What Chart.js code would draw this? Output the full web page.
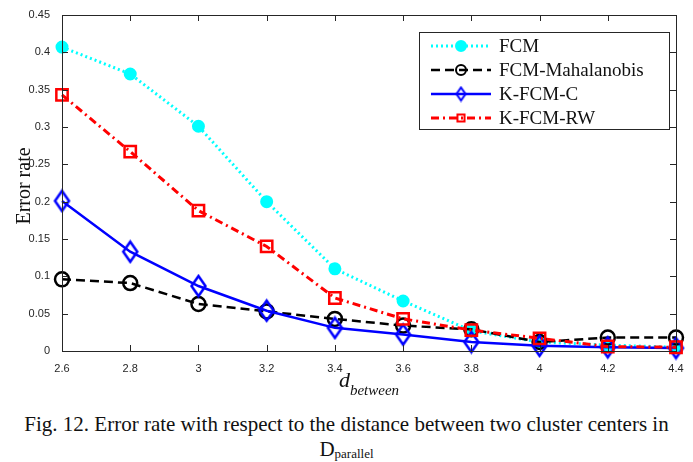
<!DOCTYPE html>
<html>
<head>
    <script src="https://cdn.jsdelivr.net/npm/chart.js@4.4.0/dist/chart.umd.min.js"></script>
    <style>
        body {
            margin: 0;
            padding: 0;
            background: white;
        }
        .wrap {
            position: relative;
            width: 693px;
            height: 462px;
        }
        .chart-box {
            position: absolute;
            left: 0;
            top: 0;
            width: 693px;
            height: 400px;
        }
        .caption {
            position: absolute;
            left: 0;
            top: 412px;
            width: 693px;
            text-align: center;
            font-family: "Liberation Serif", "DejaVu Serif", serif;
            font-size: 21px;
            line-height: 25px;
            color: #111;
        }
        .caption sub {
            font-size: 13px;
            vertical-align: -2px;
        }
    </style>
</head>
<body>
    <div class="wrap">
        <div class="chart-box">
            <canvas id="errChart"></canvas>
        </div>
        <div class="caption">
            Fig. 12. Error rate with respect to the distance between two cluster centers in<br>
            D<sub>parallel</sub>
        </div>
    </div>

    <script>
        // d_between values on the x axis
        const dBetween = [2.6, 2.8, 3.0, 3.2, 3.4, 3.6, 3.8, 4.0, 4.2, 4.4];
        const yTicks = [0, 0.05, 0.1, 0.15, 0.2, 0.25, 0.3, 0.35, 0.4, 0.45];

        const seriesNames = ['FCM', 'FCM-Mahalanobis', 'K-FCM-C', 'K-FCM-RW'];
        const fcm      = [0.407, 0.371, 0.301, 0.200, 0.110, 0.067, 0.027, 0.012, 0.008, 0.005];
        const fcmMaha  = [0.096, 0.091, 0.063, 0.053, 0.043, 0.034, 0.029, 0.012, 0.018, 0.018];
        const kfcmC    = [0.201, 0.133, 0.087, 0.054, 0.031, 0.022, 0.012, 0.007, 0.005, 0.004];
        const kfcmRW   = [0.343, 0.267, 0.188, 0.140, 0.071, 0.043, 0.028, 0.017, 0.006, 0.005];

        const toPoints = arr => arr.map((v, i) => ({ x: dBetween[i], y: v }));

        // tall open diamond (MATLAB 'd' marker)
        function makeDiamond(w, h, color, lw) {
            const c = document.createElement('canvas');
            c.width = w + lw * 2;
            c.height = h + lw * 2;
            const g = c.getContext('2d');
            const cx = c.width / 2, cy = c.height / 2;
            g.strokeStyle = color;
            g.lineWidth = lw;
            g.beginPath();
            g.moveTo(cx, cy - h / 2);
            g.lineTo(cx + w / 2, cy);
            g.lineTo(cx, cy + h / 2);
            g.lineTo(cx - w / 2, cy);
            g.closePath();
            g.stroke();
            return c;
        }
        const diamondBig = makeDiamond(14, 20, '#0000ff', 2.5);
        const diamondSmall = makeDiamond(9, 13, '#0000ff', 2);

        const datasets = [
            {
                label: seriesNames[0],
                data: toPoints(fcm),
                borderColor: '#00ffff',
                backgroundColor: '#00ffff',
                borderWidth: 3,
                borderDash: [2, 3],
                pointStyle: 'circle',
                pointRadius: 5.5,
                pointBorderWidth: 2,
                order: 4
            },
            {
                label: seriesNames[1],
                data: toPoints(fcmMaha),
                borderColor: '#000000',
                backgroundColor: 'rgba(0,0,0,0)',
                borderWidth: 2.5,
                borderDash: [9, 5],
                pointStyle: 'circle',
                pointRadius: 7,
                pointBorderWidth: 2.5,
                order: 3
            },
            {
                label: seriesNames[2],
                data: toPoints(kfcmC),
                borderColor: '#0000ff',
                backgroundColor: 'rgba(0,0,0,0)',
                borderWidth: 2.5,
                pointStyle: diamondBig,
                legendStyle: diamondSmall,
                pointRadius: 8,
                pointBorderWidth: 2.5,
                order: 2
            },
            {
                label: seriesNames[3],
                data: toPoints(kfcmRW),
                borderColor: '#ff0000',
                backgroundColor: 'rgba(0,0,0,0)',
                borderWidth: 3,
                borderDash: [8, 4, 2, 4],
                pointStyle: 'rect',
                pointRadius: 8,
                pointBorderWidth: 2.5,
                order: 1
            }
        ];
        datasets.forEach(ds => {
            ds.tension = 0;
            ds.clip = false;
            ds.pointBackgroundColor = ds.backgroundColor;
            ds.pointBorderColor = ds.borderColor;
        });

        // box around the plot with MATLAB-style inward ticks, axis titles, legend
        const matlabFrame = {
            id: 'matlabFrame',
            afterDatasetsDraw(chart) {
                const { ctx, chartArea: a, scales: { x, y } } = chart;
                ctx.save();
                ctx.strokeStyle = '#262626';
                ctx.lineWidth = 1;
                ctx.strokeRect(a.left + 0.5, a.top + 0.5, a.right - a.left, a.bottom - a.top);
                ctx.beginPath();
                dBetween.forEach(v => {
                    const px = Math.round(x.getPixelForValue(v)) + 0.5;
                    ctx.moveTo(px, a.bottom); ctx.lineTo(px, a.bottom - 6);
                    ctx.moveTo(px, a.top); ctx.lineTo(px, a.top + 6);
                });
                yTicks.forEach(v => {
                    const py = Math.round(y.getPixelForValue(v)) + 0.5;
                    ctx.moveTo(a.left, py); ctx.lineTo(a.left + 6, py);
                    ctx.moveTo(a.right, py); ctx.lineTo(a.right - 6, py);
                });
                ctx.stroke();

                // y axis title
                ctx.fillStyle = '#111';
                ctx.font = '20px "Liberation Serif", serif';
                ctx.textAlign = 'center';
                ctx.textBaseline = 'middle';
                ctx.save();
                ctx.translate(25, 186);
                ctx.rotate(-Math.PI / 2);
                ctx.fillText('Error rate', 0, 0);
                ctx.restore();

                // x axis title: d with subscript "between"
                const cx = (a.left + a.right) / 2;
                ctx.textAlign = 'left';
                ctx.textBaseline = 'alphabetic';
                ctx.font = 'italic 22px "Liberation Serif", serif';
                const dW = ctx.measureText('d').width;
                ctx.font = 'italic 15px "Liberation Serif", serif';
                const bW = ctx.measureText('between').width;
                const startX = cx - (dW + bW) / 2;
                ctx.font = 'italic 22px "Liberation Serif", serif';
                ctx.fillText('d', startX, 387);
                ctx.font = 'italic 15px "Liberation Serif", serif';
                ctx.fillText('between', startX + dW, 395);

                // legend box
                const lx = 419, ly = 32, lw = 250, lh = 97;
                ctx.fillStyle = '#fff';
                ctx.fillRect(lx, ly, lw, lh);
                ctx.strokeStyle = '#262626';
                ctx.strokeRect(lx + 0.5, ly + 0.5, lw, lh);
                const rows = [46, 70, 94, 118];
                chart.data.datasets.forEach((ds, i) => {
                    const ry = rows[i];
                    ctx.save();
                    ctx.strokeStyle = ds.borderColor;
                    ctx.lineWidth = ds.borderWidth;
                    ctx.setLineDash(ds.borderDash || []);
                    ctx.beginPath();
                    ctx.moveTo(431, ry);
                    ctx.lineTo(491, ry);
                    ctx.stroke();
                    ctx.setLineDash([]);
                    ctx.lineWidth = 2;
                    ctx.fillStyle = ds.pointBackgroundColor;
                    Chart.helpers.drawPoint(ctx, {
                        pointStyle: ds.legendStyle || ds.pointStyle,
                        radius: 5,
                        rotation: 0,
                        borderWidth: 2
                    }, 461, ry);
                    ctx.restore();
                    ctx.fillStyle = '#111';
                    ctx.font = '19px "Liberation Serif", serif';
                    ctx.textBaseline = 'middle';
                    ctx.fillText(ds.label, 499, ry + 1);
                });
                ctx.restore();
            }
        };

        const ctx = document.getElementById('errChart').getContext('2d');
        const chart = new Chart(ctx, {
            type: 'line',
            data: { datasets: datasets },
            options: {
                responsive: true,
                maintainAspectRatio: false,
                animation: false,
                layout: { padding: { top: 15, right: 17, left: 0, bottom: 0 } },
                scales: {
                    x: {
                        type: 'linear',
                        min: 2.6,
                        max: 4.4,
                        afterBuildTicks: scale => {
                            scale.ticks = dBetween.map(v => ({ value: v }));
                        },
                        afterFit: scale => { scale.height = 49; },
                        grid: { display: false },
                        border: { display: false },
                        ticks: {
                            padding: 3,
                            maxRotation: 0,
                            color: '#262626',
                            font: { family: '"Liberation Sans", Arial, sans-serif', size: 11 },
                            callback: v => String(Number(v.toFixed(1)))
                        }
                    },
                    y: {
                        min: 0,
                        max: 0.45,
                        afterBuildTicks: scale => {
                            scale.ticks = yTicks.map(v => ({ value: v }));
                        },
                        afterFit: scale => { scale.width = 62; },
                        grid: { display: false },
                        border: { display: false },
                        ticks: {
                            padding: 4,
                            color: '#262626',
                            font: { family: '"Liberation Sans", Arial, sans-serif', size: 11 },
                            callback: v => String(Number(v.toFixed(2)))
                        }
                    }
                },
                plugins: {
                    legend: { display: false },
                    tooltip: { enabled: false }
                }
            },
            plugins: [matlabFrame]
        });
    </script>
</body>
</html>
